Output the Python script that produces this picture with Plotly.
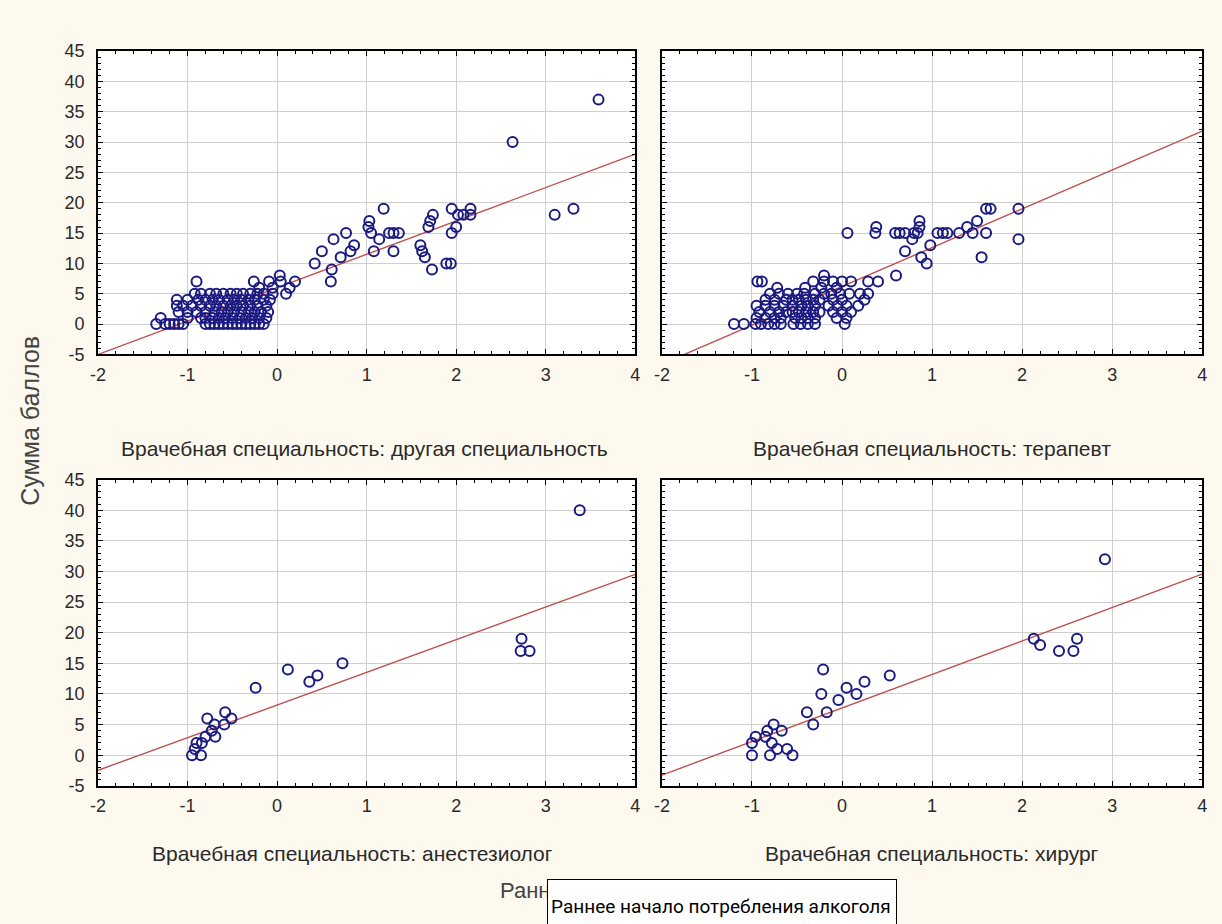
import plotly.graph_objects as go

# ---------------- data ----------------
panel_titles = [
    "Врачебная специальность: другая специальность",
    "Врачебная специальность: терапевт",
    "Врачебная специальность: анестезиолог",
    "Врачебная специальность: хирург",
]

# panel 1: другая специальность
p1_x = [3.59, 2.63, 3.10, 3.31,
        1.95, 2.16, 2.02, 2.08, 2.16, 2.00, 1.95, 1.89, 1.94,
        1.73, 1.65, 1.62, 1.60, 1.69, 1.71, 1.74,
        1.19, 1.03, 1.02, 1.05, 1.14, 1.08, 1.30, 1.30, 1.36, 1.25,
        0.86, 0.82, 0.71, 0.77, 0.63, 0.50, 0.42, 0.61, 0.60,
        0.20, 0.10, 0.14, 0.03, 0.04, -0.09, -0.26, -0.90,
        -1.35, -1.25, -1.20, -1.15, -1.10, -1.05, -0.80, -0.75, -0.70, -0.65, -0.60, -0.55, -0.50, -0.45, -0.40, -0.35, -0.30, -0.25, -0.20, -0.15,
        -1.30, -1.00, -0.85, -0.80, -0.72, -0.65, -0.58, -0.50, -0.42, -0.35, -0.28, -0.20, -0.12,
        -1.10, -1.00, -0.90, -0.80, -0.70, -0.62, -0.55, -0.48, -0.40, -0.32, -0.25, -0.18, -0.10,
        -1.12, -1.05, -0.95, -0.85, -0.75, -0.68, -0.60, -0.52, -0.45, -0.38, -0.30, -0.22, -0.12,
        -1.12, -1.00, -0.88, -0.80, -0.72, -0.65, -0.55, -0.48, -0.40, -0.32, -0.25, -0.15, -0.08,
        -0.92, -0.85, -0.75, -0.68, -0.60, -0.52, -0.45, -0.38, -0.30, -0.22, -0.15, -0.05,
        -0.20, -0.05]
p1_y = [37, 30, 18, 19,
        19, 19, 18, 18, 18, 16, 15, 10, 10,
        9, 11, 12, 13, 16, 17, 18,
        19, 17, 16, 15, 14, 12, 12, 15, 15, 15,
        13, 12, 11, 15, 14, 12, 10, 9, 7,
        7, 5, 6, 8, 7, 7, 7, 7,
        0, 0, 0, 0, 0, 0, 0, 0, 0, 0, 0, 0, 0, 0, 0, 0, 0, 0, 0, 0,
        1, 1, 1, 1, 1, 1, 1, 1, 1, 1, 1, 1, 1,
        2, 2, 2, 2, 2, 2, 2, 2, 2, 2, 2, 2, 2,
        3, 3, 3, 3, 3, 3, 3, 3, 3, 3, 3, 3, 3,
        4, 4, 4, 4, 4, 4, 4, 4, 4, 4, 4, 4, 4,
        5, 5, 5, 5, 5, 5, 5, 5, 5, 5, 5, 5,
        6, 6]

# panel 2: терапевт
p2_x = [1.96, 1.96, 1.60, 1.65, 1.55, 1.60, 1.50, 1.45, 1.39, 1.30,
        1.06, 1.12, 1.17, 0.98, 0.94, 0.88, 0.86, 0.86, 0.80, 0.84, 0.78, 0.70,
        0.59, 0.64, 0.70, 0.38, 0.37, 0.06, 0.60, 0.40, 0.29, 0.29, 0.20, 0.25, 0.18, 0.03,
        -0.20, -0.94, -0.89, -1.20, -1.09, -0.72,
        -0.96, -0.90, -0.82, -0.75, -0.68, -0.54, -0.46, -0.38, -0.30,
        -0.95, -0.85, -0.75, -0.68, -0.52, -0.45, -0.38, -0.30, -0.06, 0.05,
        -0.92, -0.80, -0.70, -0.62, -0.55, -0.48, -0.40, -0.32, -0.25, -0.10, 0.00, 0.10,
        -0.95, -0.85, -0.75, -0.65, -0.55, -0.45, -0.38, -0.30, -0.15, -0.05, 0.05,
        -0.85, -0.75, -0.62, -0.55, -0.48, -0.40, -0.32, -0.25, -0.10, 0.00,
        -0.80, -0.70, -0.60, -0.50, -0.42, -0.30, -0.20, -0.12, -0.02, 0.08,
        -0.41, -0.23, -0.06,
        -0.32, -0.20, -0.10, 0.00, 0.10]
p2_y = [19, 14, 19, 19, 11, 15, 17, 15, 16, 15,
        15, 15, 15, 13, 10, 11, 17, 16, 15, 15, 14, 12,
        15, 15, 15, 16, 15, 15, 8, 7, 7, 5, 5, 4, 3, 0,
        8, 7, 7, 0, 0, 6,
        0, 0, 0, 0, 0, 0, 0, 0, 0,
        1, 1, 1, 1, 1, 1, 1, 1, 1, 1,
        2, 2, 2, 2, 2, 2, 2, 2, 2, 2, 2, 2,
        3, 3, 3, 3, 3, 3, 3, 3, 3, 3, 3,
        4, 4, 4, 4, 4, 4, 4, 4, 4, 4,
        5, 5, 5, 5, 5, 5, 5, 5, 5, 5,
        6, 6, 6,
        7, 7, 7, 7, 7]

# panel 3: анестезиолог
p3_x = [3.38, 2.73, 2.72, 2.82, 0.73, 0.45, 0.36, 0.12, -0.24,
        -0.58, -0.51, -0.59, -0.78, -0.70, -0.73, -0.69, -0.80, -0.84, -0.90, -0.92, -0.95, -0.85]
p3_y = [40, 19, 17, 17, 15, 13, 12, 14, 11,
        7, 6, 5, 6, 5, 4, 3, 3, 2, 2, 1, 0, 0]

# panel 4: хирург
p4_x = [2.92, 2.13, 2.20, 2.41, 2.57, 2.61, 0.53, 0.25, 0.05, 0.16, -0.04, -0.21, -0.23,
        -0.17, -0.39, -0.32, -0.76, -0.83, -0.67, -0.96, -0.85, -1.00, -0.78, -0.72, -0.61,
        -1.00, -0.80, -0.55]
p4_y = [32, 19, 18, 17, 17, 19, 13, 12, 11, 10, 9, 14, 10,
        7, 7, 5, 5, 4, 4, 3, 3, 2, 2, 1, 1,
        0, 0, 0]

# estimated regression lines (slope, intercept) per panel
fit_slope = [5.5, 6.4, 5.33, 5.47]
fit_intercept = [6.0, 6.2, 8.2, 7.7]

x_range = [-2, 4]
y_range = [-5, 45]
x_tickvals = [-2, -1, 0, 1, 2, 3, 4]
x_ticktext = ["-2", "-1", "0", "1", "2", "3", "4"]
y_tickvals = [-5, 0, 5, 10, 15, 20, 25, 30, 35, 40, 45]
y_ticktext = ["-5", "0", "5", "10", "15", "20", "25", "30", "35", "40", "45"]

y_title = "Сумма баллов"
x_title = "Раннее начало потребления алкоголя"
box_text = "Раннее начало потребления алкоголя"

# ---------------- figure ----------------
W, H = 1222, 924
BG = "#fdf9ef"
MARK = "#1a1a80"
LINE = "#c0504d"
TXT = "#2a2a2a"
FONT = "Liberation Sans, Arial, sans-serif"

xdom = [[91 / W, 634 / W], [661 / W, 1207 / W], [91 / W, 634 / W], [661 / W, 1207 / W]]
ydom = [[1 - 352 / H, 1 - 42 / H], [1 - 352 / H, 1 - 42 / H],
        [1 - 793 / H, 1 - 480 / H], [1 - 793 / H, 1 - 480 / H]]

xs = [p1_x, p2_x, p3_x, p4_x]
ys = [p1_y, p2_y, p3_y, p4_y]

fig = go.Figure()
for i in range(4):
    sfx = "" if i == 0 else str(i + 1)
    xr = "x" + sfx
    yr = "y" + sfx
    lx = [x_range[0], x_range[1]]
    ly = [fit_slope[i] * v + fit_intercept[i] for v in lx]
    fig.add_trace(go.Scatter(x=lx, y=ly, mode="lines", xaxis=xr, yaxis=yr,
                             line=dict(color=LINE, width=1.4), hoverinfo="skip",
                             showlegend=False, cliponaxis=True))
    fig.add_trace(go.Scatter(x=xs[i], y=ys[i], mode="markers", xaxis=xr, yaxis=yr,
                             marker=dict(symbol="circle-open", size=10, color=MARK,
                                         line=dict(width=2, color=MARK)),
                             showlegend=False))

    tfont = dict(family=FONT, size=18, color=TXT)
    xa = dict(showline=True, linecolor="black", linewidth=2, mirror="ticks",
              ticks="inside", ticklen=5, tickcolor="black", tickwidth=1,
              showgrid=True, gridcolor="#cfcfcf", gridwidth=1, zeroline=False,
              tickfont=tfont,
              domain=xdom[i], range=x_range, tickmode="array",
              tickvals=x_tickvals, ticktext=x_ticktext, ticklabelstandoff=3,
              anchor=yr, minor=dict(ticks="inside", ticklen=3, dtick=0.2, tickcolor="black",
                                     showgrid=False))
    ya = dict(showline=True, linecolor="black", linewidth=2, mirror="ticks",
              ticks="inside", ticklen=5, tickcolor="black", tickwidth=1,
              showgrid=True, gridcolor="#cfcfcf", gridwidth=1, zeroline=False,
              tickfont=tfont,
              domain=ydom[i], range=y_range, tickmode="array",
              tickvals=y_tickvals, ticktext=y_ticktext, ticklabelstandoff=8,
              anchor=xr, showticklabels=(i % 2 == 0),
              minor=dict(ticks="inside", ticklen=3, dtick=1, tickcolor="black", showgrid=False))
    fig.layout["xaxis" + sfx] = xa
    fig.layout["yaxis" + sfx] = ya

annotations = []
sub_pos = [(360, 448), (934, 448), (348, 862), (934, 862)]
for i, (px, py) in enumerate(sub_pos):
    annotations.append(dict(text=panel_titles[i], x=px / W, y=1 - py / H, xref="paper", yref="paper",
                            xanchor="center", yanchor="middle", showarrow=False,
                            font=dict(family=FONT, size=21, color=TXT)))
annotations.append(dict(text=y_title, x=22 / W, y=1 - 420 / H, xref="paper", yref="paper",
                        xanchor="center", yanchor="middle", textangle=-90, showarrow=False,
                        font=dict(family=FONT, size=25, color="#444")))
annotations.append(dict(text=x_title, x=495 / W, y=1 - 900 / H, xref="paper", yref="paper",
                        xanchor="left", yanchor="middle", showarrow=False,
                        font=dict(family=FONT, size=22, color="#444")))
annotations.append(dict(text=box_text, x=545 / W, y=1 - 888 / H, xref="paper", yref="paper",
                        xanchor="left", yanchor="top", showarrow=False, align="left",
                        width=342, height=46, valign="middle",
                        bgcolor="white", bordercolor="black", borderwidth=1, borderpad=3,
                        font=dict(family="Roboto, sans-serif", size=19, color="black")))

fig.update_layout(width=W, height=H, margin=dict(l=0, r=0, t=0, b=0),
                  paper_bgcolor=BG, plot_bgcolor="white", annotations=annotations,
                  showlegend=False)

fig.write_html("out.html", config={"displayModeBar": False})
